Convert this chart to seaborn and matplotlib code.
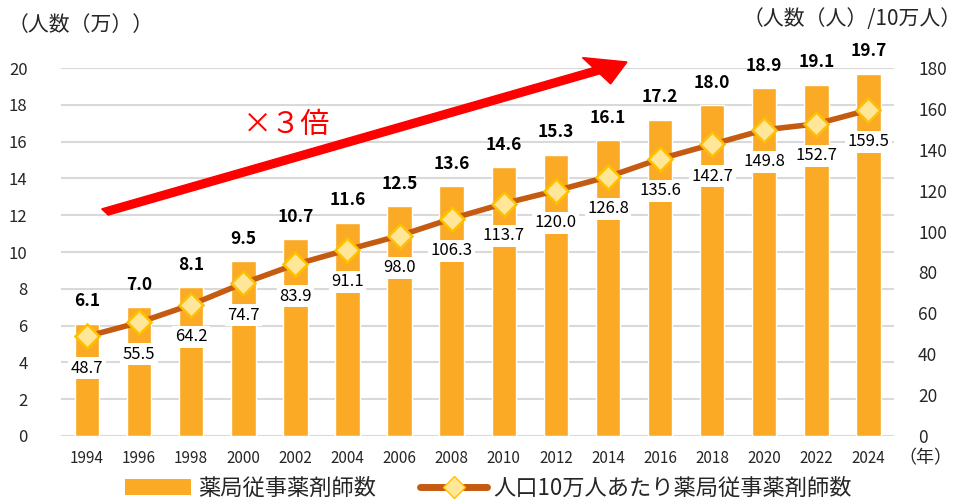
import matplotlib
matplotlib.use("Agg")
import matplotlib.pyplot as plt
import seaborn as sns
import pandas as pd
from matplotlib.patches import Patch, FancyArrow
from matplotlib.lines import Line2D

sns.set_theme(style="white")
plt.rcParams['font.family'] = ['Noto Sans CJK JP', 'DejaVu Sans']

years = ["1994", "1996", "1998", "2000", "2002", "2004", "2006", "2008",
         "2010", "2012", "2014", "2016", "2018", "2020", "2022", "2024"]
pharmacists_10k = [6.1, 7.0, 8.1, 9.5, 10.7, 11.6, 12.5, 13.6,
                   14.6, 15.3, 16.1, 17.2, 18.0, 18.9, 19.1, 19.7]
per_100k = [48.7, 55.5, 64.2, 74.7, 83.9, 91.1, 98.0, 106.3,
            113.7, 120.0, 126.8, 135.6, 142.7, 149.8, 152.7, 159.5]

bar_label = "薬局従事薬剤師数"
line_label = "人口10万人あたり薬局従事薬剤師数"

df = pd.DataFrame({"year": years, "count": pharmacists_10k, "rate": per_100k})

BAR = "#FBAA26"
LINE = "#C55A11"
MFACE = "#FFE699"
MEDGE = "#FFC000"

fig = plt.figure(figsize=(9.67, 5.01), dpi=100)
ax = fig.add_axes([0.063, 0.13, 0.862, 0.734])

sns.barplot(data=df, x="year", y="count", color=BAR, width=0.47,
            saturation=1, ax=ax, zorder=2)
ax.set_ylim(0, 20)
ax.set_yticks(range(0, 21, 2))
ax.yaxis.grid(True, color="#D9D9D9", linewidth=1.5, zorder=0)
ax.set_axisbelow(True)
for s in ax.spines.values():
    s.set_visible(False)
ax.set_xlabel("")
ax.set_ylabel("")
ax.tick_params(axis="y", labelsize=12, length=0, pad=24)
ax.tick_params(axis="x", labelsize=11, length=0, pad=10)
for lbl in ax.get_xticklabels():
    lbl.set_fontstretch("condensed")

for i, v in enumerate(pharmacists_10k):
    ax.annotate(f"{v:.1f}", (i, v), xytext=(0, 16), textcoords="offset points",
                ha="center", va="center", fontsize=12.5, fontweight="bold",
                color="black", zorder=5)

ax2 = ax.twinx()
sns.pointplot(data=df, x="year", y="rate", color=LINE, markers="D",
              linewidth=4, markersize=12, markerfacecolor=MFACE,
              markeredgecolor=MEDGE, markeredgewidth=1.8, ax=ax2, zorder=4)
ax2.set_ylim(0, 180)
ax2.set_yticks(range(0, 181, 20))
ax2.set_ylabel("")
ax2.set_xlabel("")
for s in ax2.spines.values():
    s.set_visible(False)
ax2.tick_params(axis="y", labelsize=12.5, length=0, pad=17)
ax2.set_xlim(-0.5, len(years) - 0.5)

for i, v in enumerate(per_100k):
    ax2.annotate(f"{v:.1f}", (i, v), xytext=(0, -23), textcoords="offset points",
                 ha="center", va="center", fontsize=12, color="black",
                 bbox=dict(boxstyle="square,pad=0.15", fc="white", ec="none"),
                 zorder=6)

# growth arrow
x0, y0 = 105 / 967, 1 - 212 / 501
x1, y1 = 627 / 967, 1 - 62 / 501
fig.patches.append(FancyArrow(
    x0, y0, x1 - x0, y1 - y0,
    width=0.014, head_width=0.06, head_length=0.036,
    length_includes_head=True, color="#FF0000", transform=fig.transFigure,
    figure=fig))
fig.text(243 / 967, 1 - 125 / 501, "×３倍", color="#FF0000", fontsize=21,
         ha="left", va="center")

fig.text(8 / 967, 1 - 25 / 501, "（人数（万））", fontsize=15, ha="left",
         va="center")
fig.text(962 / 967, 1 - 19 / 501, "（人数（人）/10万人）", fontsize=15,
         ha="right", va="center")
fig.text(898 / 967, 1 - 458 / 501, "（年）", fontsize=13, ha="left", va="center")

handles = [Patch(facecolor=BAR, edgecolor="none", label=bar_label),
           Line2D([0], [0], color=LINE, lw=5, marker="D", markersize=11,
                  markerfacecolor=MFACE, markeredgecolor=MEDGE,
                  label=line_label)]
fig.legend(handles=handles, loc="center", bbox_to_anchor=(0.505, 1 - 488 / 501),
           ncol=2, frameon=False, fontsize=16, handlelength=3.0,
           handletextpad=0.3, columnspacing=2.0, borderpad=0)

fig.savefig("out.png", dpi=100)
